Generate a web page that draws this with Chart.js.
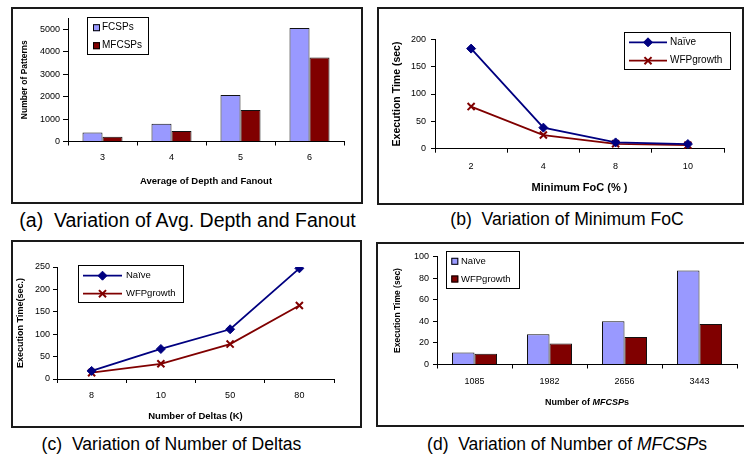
<!DOCTYPE html>
<html><head><meta charset="utf-8">
<script src="https://cdn.jsdelivr.net/npm/chart.js@4.4.0/dist/chart.umd.min.js"></script>
<style>
html,body{margin:0;padding:0;background:#fff;}
body{width:744px;height:455px;position:relative;overflow:hidden;font-family:"Liberation Sans",Arial,sans-serif;}
.box{position:absolute;box-sizing:border-box;border:2px solid #1a1a1a;}
canvas{position:absolute;}
.cap{position:absolute;text-align:center;white-space:pre;line-height:1;color:#000;}
</style></head><body>
<div class="box" style="left:11px;top:7px;width:352px;height:197px;"></div>
<div class="box" style="left:377px;top:7px;width:367px;height:198px;"></div>
<div class="box" style="left:11px;top:240px;width:351px;height:188px;"></div>
<div class="box" style="left:376px;top:242px;width:380px;height:185px;"></div>
<canvas id="ca" width="350" height="195" style="left:12px;top:8px;"></canvas>
<canvas id="cb" width="364" height="196" style="left:378px;top:8px;"></canvas>
<canvas id="cc" width="349" height="186" style="left:12px;top:241px;"></canvas>
<canvas id="cd" width="367" height="183" style="left:377px;top:243px;"></canvas>
<div class="cap" style="left:0px;top:211px;width:375px;font-size:19.5px;">(a)  Variation of Avg. Depth and Fanout</div>
<div class="cap" style="left:380px;top:211px;width:374px;font-size:17.6px;">(b)  Variation of Minimum FoC</div>
<div class="cap" style="left:0px;top:436px;width:343px;font-size:17.6px;">(c)  Variation of Number of Deltas</div>
<div class="cap" style="left:380px;top:436px;width:374px;font-size:17.5px;">(d)  Variation of Number of <i>MFCSP</i>s</div>
<script>
// ---------- data ----------
const depthFanout = ['3', '4', '5', '6'];
const fcsps = [400, 790, 2070, 5060];
const mfcsps = [210, 470, 1400, 3745];
const patternTicks = [0, 1000, 2000, 3000, 4000, 5000];

const minFoC = ['2', '4', '8', '10'];
const naiveFoC = [183, 38.5, 11.5, 8.5];
const wfpFoC = [77, 25, 9, 6.5];
const timeTicksB = [0, 50, 100, 150, 200];

const deltas = ['8', '10', '50', '80'];
const naiveDeltas = [18, 67, 111, 247];
const wfpDeltas = [14, 34, 78, 164];
const timeTicksC = [0, 50, 100, 150, 200, 250];

const mfcspCounts = ['1085', '1982', '2656', '3443'];
const naiveMfcsp = [11, 28, 40, 87];
const wfpMfcsp = [10, 19.5, 25.5, 37.5];
const timeTicksD = [0, 20, 40, 60, 80, 100];

// ---------- helpers ----------
const FAM = "'Liberation Sans', Arial, sans-serif";
Chart.defaults.font.family = FAM;
Chart.defaults.color = '#000';

function legendPlugin(c) {
  return {
    id: 'boxLegend',
    afterDraw(chart) {
      const ctx = chart.ctx;
      ctx.save();
      ctx.fillStyle = '#fff';
      ctx.fillRect(c.x, c.y, c.w, c.h);
      ctx.strokeStyle = '#000';
      ctx.lineWidth = 1;
      ctx.strokeRect(c.x + 0.5, c.y + 0.5, c.w, c.h);
      chart.data.datasets.forEach((ds, i) => {
        const y = c.rows[i];
        if (c.kind === 'bar') {
          ctx.fillStyle = ds.backgroundColor;
          ctx.fillRect(c.sx, y - c.ss / 2, c.ss, c.ss);
          ctx.strokeStyle = '#000';
          ctx.lineWidth = 1;
          ctx.strokeRect(c.sx + 0.5, y - c.ss / 2 + 0.5, c.ss - 1, c.ss - 1);
        } else {
          ctx.strokeStyle = ds.borderColor;
          ctx.lineWidth = ds.borderWidth;
          ctx.beginPath();
          ctx.moveTo(c.lx1, y);
          ctx.lineTo(c.lx2, y);
          ctx.stroke();
          ctx.fillStyle = ds.pointBackgroundColor;
          ctx.strokeStyle = ds.pointBorderColor;
          ctx.lineWidth = ds.pointBorderWidth;
          Chart.helpers.drawPoint(ctx, {pointStyle: ds.pointStyle, radius: ds.pointRadius, borderWidth: ds.pointBorderWidth, rotation: 0}, (c.lx1 + c.lx2) / 2, y);
        }
        ctx.fillStyle = '#000';
        ctx.font = c.font + 'px ' + FAM;
        ctx.textBaseline = 'middle';
        ctx.textAlign = 'left';
        ctx.fillText(ds.label, c.tx, y);
      });
      ctx.restore();
    }
  };
}

function richTitlePlugin(c) {
  return {
    id: 'richTitle',
    afterDraw(chart) {
      const ctx = chart.ctx;
      const ca = chart.chartArea;
      ctx.save();
      const fonts = c.parts.map(p => (p.italic ? 'italic ' : '') + 'bold ' + c.size + 'px ' + FAM);
      let total = 0;
      c.parts.forEach((p, i) => { ctx.font = fonts[i]; total += ctx.measureText(p.text).width; });
      let x = (ca.left + ca.right) / 2 - total / 2;
      ctx.fillStyle = '#000';
      ctx.textBaseline = 'middle';
      ctx.textAlign = 'left';
      c.parts.forEach((p, i) => { ctx.font = fonts[i]; ctx.fillText(p.text, x, c.y); x += ctx.measureText(p.text).width; });
      ctx.restore();
    }
  };
}

function make(id, type, labels, datasets, o) {
  const cv = document.getElementById(id);
  const plugins = [legendPlugin(o.legend)];
  if (o.rich) plugins.push(richTitlePlugin(o.rich));
  return new Chart(cv, {
    type: type,
    data: {labels: labels, datasets: datasets},
    plugins: plugins,
    options: {
      responsive: false,
      animation: false,
      events: [],
      layout: {padding: {left: 0, top: o.area.top, right: cv.width - o.area.right, bottom: 0}},
      plugins: {legend: {display: false}, tooltip: {enabled: false}},
      scales: {
        x: {
          type: 'category',
          offset: true,
          grid: {offset: true, drawOnChartArea: false, drawTicks: true, tickLength: 4, color: '#000', lineWidth: 1},
          border: {display: true, color: '#000', width: 1},
          ticks: {font: {size: o.tickFont}, padding: o.xPad, color: '#000', maxRotation: 0, autoSkip: false},
          title: {display: !!o.xTitle, text: o.xTitle || '', font: {size: o.xTitleSize, weight: 'bold'}, padding: {top: 0, bottom: o.xTitlePad || 0}, color: '#000'},
          afterFit: s => { s.height = cv.height - o.area.bottom; }
        },
        y: {
          type: 'linear',
          min: 0,
          max: o.yMax,
          ticks: {font: {size: o.tickFont}, padding: o.yPad, color: '#000', autoSkip: false, callback: v => String(v)},
          grid: {drawOnChartArea: false, drawTicks: true, tickLength: o.yTick || 4, lineWidth: 1, color: '#000'},
          border: {display: true, color: '#000', width: 1},
          title: {display: true, text: o.yTitle, font: {size: o.yTitleSize, weight: 'bold'}, padding: {top: o.yTitlePad, bottom: 0}, color: '#000'},
          afterBuildTicks: s => { s.ticks = o.yTicks.map(v => ({value: v})); },
          afterFit: s => { s.width = o.area.left; }
        }
      }
    }
  });
}

function barSet(label, data, color, cp) {
  return {label: label, data: data, backgroundColor: color, borderColor: '#111', borderWidth: 1, categoryPercentage: cp, barPercentage: 1};
}
function naiveLine(data) {
  return {label: 'Naïve', data: data, borderColor: '#000080', backgroundColor: '#000080', borderWidth: 1.8,
          pointStyle: 'rectRot', pointRadius: 4.5, pointBackgroundColor: '#000080', pointBorderColor: '#000080', pointBorderWidth: 1, tension: 0};
}
function wfpLine(data) {
  return {label: 'WFPgrowth', data: data, borderColor: '#800000', backgroundColor: '#800000', borderWidth: 1.8,
          pointStyle: 'crossRot', pointRadius: 5, pointBackgroundColor: '#800000', pointBorderColor: '#800000', pointBorderWidth: 2, tension: 0};
}

// (a)
make('ca', 'bar', depthFanout, [barSet('FCSPs', fcsps, '#9999FF', 0.58), barSet('MFCSPs', mfcsps, '#800000', 0.58)], {
  area: {left: 56, top: 10, right: 332, bottom: 133.5},
  yMax: 5500, yTicks: patternTicks, tickFont: 9, xPad: 7, yPad: 3, yTick: 5,
  xTitle: 'Average of Depth and Fanout', xTitleSize: 9.5, xTitlePad: 16,
  yTitle: 'Number of Patterns', yTitleSize: 8.5, yTitlePad: 8,
  legend: {kind: 'bar', x: 75, y: 9, w: 61, h: 37, rows: [19.7, 37.7], sx: 81, ss: 7, tx: 90, font: 10}
});

// (b)
make('cb', 'line', minFoC, [naiveLine(naiveFoC), wfpLine(wfpFoC)], {
  area: {left: 57, top: 31.3, right: 346, bottom: 140.7},
  yMax: 200, yTicks: timeTicksB, tickFont: 9, xPad: 8, yPad: 5,
  xTitle: 'Minimum FoC (% )', xTitleSize: 11, xTitlePad: 9.7,
  yTitle: 'Execution Time (sec)', yTitleSize: 10.5, yTitlePad: 12.7,
  legend: {kind: 'line', x: 246, y: 24, w: 106, h: 37, rows: [34.3, 52.7], lx1: 251, lx2: 289, tx: 292, font: 10}
});

// (c)
make('cc', 'line', deltas, [naiveLine(naiveDeltas), wfpLine(wfpDeltas)], {
  area: {left: 45, top: 26, right: 322, bottom: 138},
  yMax: 250, yTicks: timeTicksC, tickFont: 9, xPad: 7.5, yPad: 3,
  xTitle: 'Number of Deltas (K)', xTitleSize: 9.5, xTitlePad: 5.3,
  yTitle: 'Execution Time(sec.)', yTitleSize: 9, yTitlePad: 3.3,
  legend: {kind: 'line', x: 66, y: 24, w: 105, h: 37, rows: [34.7, 52.7], lx1: 71, lx2: 110, tx: 114, font: 9.5}
});

// (d)
make('cd', 'bar', mfcspCounts, [barSet('Naïve', naiveMfcsp, '#9999FF', 0.6), barSet('WFPgrowth', wfpMfcsp, '#800000', 0.6)], {
  area: {left: 60, top: 13.5, right: 360, bottom: 121.5},
  yMax: 100, yTicks: timeTicksD, tickFont: 9, xPad: 8, yPad: 4,
  rich: {y: 160, size: 9, parts: [{text: 'Number of '}, {text: 'MFCSP', italic: true}, {text: 's'}]},
  yTitle: 'Execution Time (sec)', yTitleSize: 8.5, yTitlePad: 16,
  legend: {kind: 'bar', x: 69, y: 8, w: 73, h: 37, rows: [18.3, 36], sx: 74.3, ss: 7, tx: 84, font: 9.5}
});
</script>
</body></html>
